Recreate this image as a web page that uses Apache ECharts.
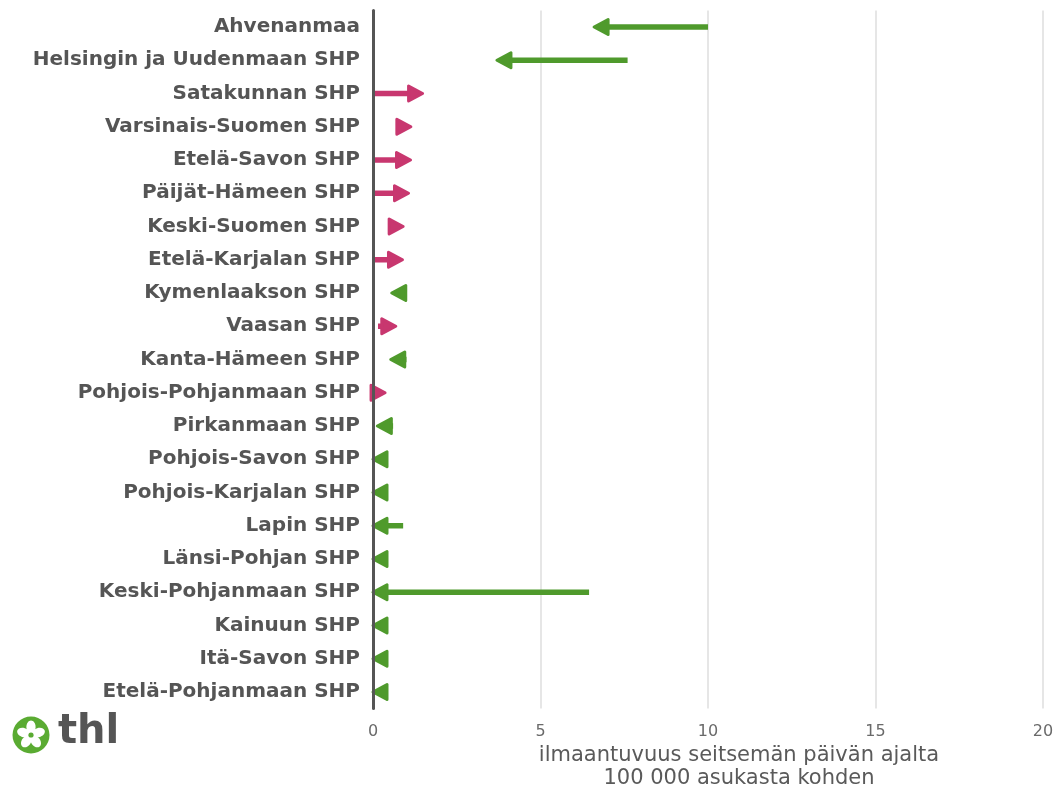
<!DOCTYPE html>
<html>
<head>
<meta charset="utf-8">
<script src="https://cdn.jsdelivr.net/npm/echarts@6/dist/echarts.min.js"></script>
<style>
html,body{margin:0;padding:0;background:#fff;}
#chart{width:1059px;height:789px;}
</style>
</head>
<body>
<div id="chart"></div>
<script>
const regions = [
  "Ahvenanmaa","Helsingin ja Uudenmaan SHP","Satakunnan SHP","Varsinais-Suomen SHP",
  "Etelä-Savon SHP","Päijät-Hämeen SHP","Keski-Suomen SHP","Etelä-Karjalan SHP",
  "Kymenlaakson SHP","Vaasan SHP","Kanta-Hämeen SHP","Pohjois-Pohjanmaan SHP",
  "Pirkanmaan SHP","Pohjois-Savon SHP","Pohjois-Karjalan SHP","Lapin SHP",
  "Länsi-Pohjan SHP","Keski-Pohjanmaan SHP","Kainuun SHP","Itä-Savon SHP","Etelä-Pohjanmaan SHP"
];
// incidence in the previous 7-day period (arrow start)
const previousValues = [10.0, 7.6, 0.05, 0.7, 0.05, 0.05, 0.45, 0.05, 1.0, 0.15, 1.0, 0.02, 0.6, 0.3, 0.3, 0.9, 0.3, 6.45, 0.3, 0.3, 0.3];
// incidence in the latest 7-day period (arrow end)
const currentValues  = [6.6, 3.7, 1.48, 1.13, 1.12, 1.06, 0.9, 0.88, 0.56, 0.68, 0.53, 0.36, 0.13, 0.0, 0.0, 0.0, 0.0, 0.0, 0.0, 0.0, 0.0];
const xTicks = [0, 5, 10, 15, 20];

const GREEN = '#4f9a2c';
const MAGENTA = '#c8376f';

const data = regions.map((r, i) => [previousValues[i], currentValues[i], i]);

const chart = echarts.init(document.getElementById('chart'));
chart.setOption({
  animation: false,
  backgroundColor: '#fff',
  grid: {left: 373, right: 16, top: 10.4, bottom: 80.4, containLabel: false, outerBoundsMode: 'none'},
  xAxis: {
    type: 'value', min: xTicks[0], max: xTicks[xTicks.length - 1], interval: 5,
    axisLine: {show: false}, axisTick: {show: false},
    splitLine: {show: true, lineStyle: {color: '#dedede', width: 1.5}},
    axisLabel: {color: '#6a6a6a', fontSize: 16, margin: 15, fontFamily: 'DejaVu Sans',
      formatter: v => xTicks.includes(v) ? String(v) : ''},
    name: 'ilmaantuvuus seitsemän päivän ajalta\n100 000 asukasta kohden',
    nameLocation: 'middle', nameGap: 28,
    nameTextStyle: {color: '#5a5a5a', fontSize: 21, lineHeight: 23, fontFamily: 'DejaVu Sans', padding: [0, 0, 0, 62]}
  },
  yAxis: {
    type: 'category', data: regions, inverse: true, z: 10,
    axisLine: {show: true, lineStyle: {color: '#555', width: 3}},
    axisTick: {show: false}, splitLine: {show: false},
    axisLabel: {color: '#555', fontSize: 20, fontWeight: 'bold', margin: 13, fontFamily: 'DejaVu Sans'}
  },
  series: [{
    type: 'custom',
    clip: false,
    data: data,
    encode: {x: [0, 1], y: 2},
    renderItem: function (params, api) {
      const s = api.value(0), e = api.value(1), idx = api.value(2);
      const p0 = api.coord([s, idx]);
      const p1 = api.coord([e, idx]);
      const dir = p1[0] >= p0[0] ? 1 : -1;
      const color = dir > 0 ? MAGENTA : GREEN;
      const L = 14, W = 7.5;
      const base = p1[0] - dir * L;
      const y = p0[1];
      const children = [];
      if ((p1[0] - p0[0]) * dir > L) {
        children.push({type: 'line', shape: {x1: p0[0], y1: y, x2: base, y2: y},
          style: {stroke: color, lineWidth: 5.5, lineCap: 'butt'}});
      }
      children.push({type: 'polygon', shape: {points: [[p1[0], y], [base, y - W], [base, y + W]]},
        style: {fill: color, stroke: color, lineWidth: 3, lineJoin: 'round'}});
      return {type: 'group', children: children};
    }
  }],
  graphic: [
    {type: 'circle', shape: {cx: 31, cy: 735, r: 18.5}, style: {fill: '#5aab32'}},
    ...[0, 1, 2, 3, 4].map(k => {
      const a = -Math.PI / 2 + k * 2 * Math.PI / 5;
      return {type: 'ellipse', x: 31 + 8 * Math.cos(a), y: 735 + 8 * Math.sin(a),
        rotation: -(a + Math.PI / 2),
        shape: {cx: 0, cy: 0, rx: 4.6, ry: 6.4}, style: {fill: '#fff'}};
    }),
    {type: 'circle', shape: {cx: 31, cy: 735, r: 2.6}, style: {fill: '#5aab32'}},
    {type: 'text', left: 58, top: 713, style: {text: 'thl', fill: '#555', font: 'bold 40px "DejaVu Sans"'}}
  ]
});
</script>
</body>
</html>
